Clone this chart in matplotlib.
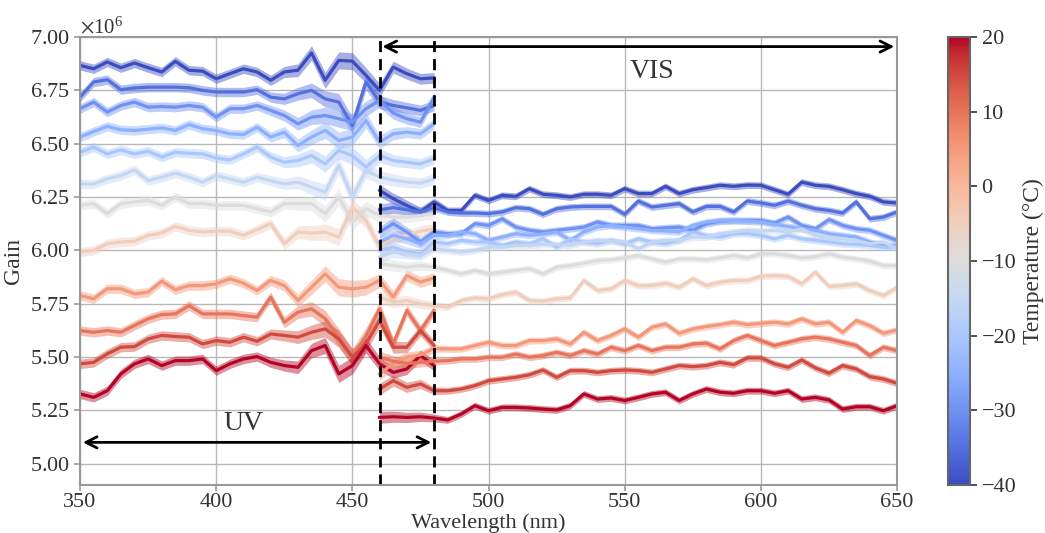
import numpy as np
import matplotlib
matplotlib.use("Agg")
import matplotlib.pyplot as plt
from matplotlib import cm
from matplotlib.colors import Normalize
from matplotlib.ticker import ScalarFormatter

plt.rcParams['font.family'] = ['Liberation Serif', 'DejaVu Serif']
plt.rcParams['mathtext.fontset'] = 'stix'
plt.rcParams['axes.unicode_minus'] = True

# wavelengths (nm) of the two detector ranges
wl_uv = np.arange(350, 481, 5)
wl_vis = np.arange(460, 651, 5)

temperatures = [-40, -35, -30, -25, -20, -15, -10, -5, 5, 10, 15, 20]

# mean gain (x1e6) per temperature, UV range 350-480 nm
uv_m40 = [6.867, 6.851, 6.883, 6.856, 6.878, 6.856, 6.836, 6.886, 6.844, 6.840, 6.804, 6.828, 6.851, 6.836,
          6.797, 6.836, 6.844, 6.925, 6.797, 6.890, 6.887, 6.820, 6.750, 6.859, 6.828, 6.804, 6.808]
uv_m35 = [6.718, 6.789, 6.800, 6.753, 6.761, 6.765, 6.765, 6.765, 6.762, 6.750, 6.742, 6.742, 6.742, 6.753,
          6.718, 6.710, 6.734, 6.750, 6.710, 6.695, 6.585, 6.789, 6.695, 6.679, 6.668, 6.656, 6.679]
uv_m30 = [6.664, 6.695, 6.648, 6.679, 6.695, 6.671, 6.674, 6.671, 6.679, 6.671, 6.624, 6.664, 6.664, 6.679,
          6.656, 6.632, 6.593, 6.624, 6.632, 6.617, 6.601, 6.664, 6.703, 6.643, 6.617, 6.601, 6.718]
uv_m25 = [6.531, 6.557, 6.581, 6.565, 6.562, 6.568, 6.574, 6.562, 6.590, 6.570, 6.562, 6.546, 6.543, 6.577,
          6.531, 6.554, 6.491, 6.531, 6.562, 6.515, 6.531, 6.609, 6.507, 6.546, 6.554, 6.546, 6.593]
uv_m20 = [6.460, 6.484, 6.452, 6.471, 6.452, 6.465, 6.437, 6.460, 6.455, 6.452, 6.433, 6.424, 6.452, 6.484,
          6.437, 6.413, 6.421, 6.444, 6.405, 6.468, 6.444, 6.390, 6.444, 6.421, 6.413, 6.405, 6.429]
uv_m15 = [6.311, 6.311, 6.335, 6.351, 6.377, 6.327, 6.343, 6.362, 6.343, 6.319, 6.351, 6.335, 6.319, 6.343,
          6.327, 6.311, 6.319, 6.296, 6.272, 6.398, 6.249, 6.374, 6.343, 6.330, 6.320, 6.315, 6.335]
uv_m10 = [6.211, 6.219, 6.172, 6.219, 6.227, 6.234, 6.211, 6.250, 6.219, 6.219, 6.211, 6.211, 6.211, 6.195,
          6.180, 6.219, 6.219, 6.219, 6.172, 6.250, 6.133, 6.195, 6.164, 6.156, 6.156, 6.164, 6.172]
uv_m5 = [5.992, 6.000, 6.031, 6.039, 6.043, 6.070, 6.081, 6.112, 6.094, 6.086, 6.090, 6.090, 6.070, 6.097,
         6.125, 6.031, 6.086, 6.081, 6.086, 6.062, 6.203, 6.140, 6.015, 6.060, 6.070, 6.090, 6.100]
uv_p5 = [5.788, 5.773, 5.820, 5.820, 5.796, 5.804, 5.856, 5.815, 5.835, 5.835, 5.843, 5.867, 5.846, 5.812,
         5.859, 5.835, 5.765, 5.827, 5.890, 5.827, 5.820, 5.827, 5.859, 5.781, 5.882, 5.851, 5.871]
uv_p10 = [5.624, 5.616, 5.624, 5.616, 5.648, 5.679, 5.699, 5.702, 5.741, 5.702, 5.702, 5.702, 5.694, 5.687,
          5.781, 5.663, 5.710, 5.726, 5.680, 5.593, 5.499, 5.600, 5.726, 5.561, 5.718, 5.624, 5.718]
uv_p15 = [5.468, 5.475, 5.515, 5.546, 5.549, 5.585, 5.601, 5.596, 5.593, 5.561, 5.577, 5.569, 5.593, 5.574,
          5.608, 5.601, 5.593, 5.616, 5.632, 5.585, 5.499, 5.561, 5.671, 5.546, 5.546, 5.624, 5.554]
uv_p20 = [5.327, 5.311, 5.342, 5.421, 5.468, 5.491, 5.460, 5.483, 5.483, 5.491, 5.436, 5.468, 5.491, 5.502,
          5.475, 5.460, 5.452, 5.530, 5.554, 5.421, 5.460, 5.554, 5.468, 5.428, 5.444, 5.507, 5.460]

# mean gain (x1e6) per temperature, VIS range 460-650 nm
vis_m40 = [6.281, 6.242, 6.211, 6.180, 6.227, 6.187, 6.187, 6.258, 6.234, 6.258, 6.253, 6.289, 6.263,
           6.258, 6.250, 6.263, 6.263, 6.258, 6.289, 6.266, 6.266, 6.300, 6.266, 6.284, 6.294, 6.305,
           6.300, 6.306, 6.305, 6.284, 6.263, 6.320, 6.305, 6.300, 6.284, 6.266, 6.253, 6.227, 6.222]
vis_m35 = [6.190, 6.200, 6.190, 6.180, 6.200, 6.180, 6.175, 6.175, 6.172, 6.180, 6.200, 6.195, 6.169,
           6.195, 6.203, 6.206, 6.206, 6.206, 6.169, 6.231, 6.203, 6.211, 6.219, 6.180, 6.206, 6.206,
           6.180, 6.231, 6.222, 6.211, 6.231, 6.211, 6.195, 6.187, 6.175, 6.227, 6.148, 6.156, 6.180]
vis_m30 = [6.086, 6.125, 6.086, 6.039, 6.086, 6.078, 6.078, 6.125, 6.117, 6.148, 6.109, 6.094, 6.086,
           6.094, 6.101, 6.109, 6.133, 6.117, 6.117, 6.117, 6.101, 6.106, 6.109, 6.094, 6.125, 6.137,
           6.140, 6.140, 6.140, 6.128, 6.156, 6.117, 6.101, 6.144, 6.117, 6.101, 6.094, 6.070, 6.047]
vis_m25 = [6.039, 6.070, 6.054, 6.031, 6.070, 6.070, 6.086, 6.078, 6.047, 6.062, 6.078, 6.070, 6.078,
           6.086, 6.047, 6.086, 6.109, 6.117, 6.109, 6.101, 6.094, 6.090, 6.086, 6.117, 6.133, 6.140,
           6.140, 6.137, 6.133, 6.122, 6.112, 6.101, 6.094, 6.078, 6.070, 6.062, 6.039, 6.023, 6.023]
vis_m20 = [6.000, 6.015, 5.992, 5.984, 6.039, 6.031, 6.047, 6.039, 6.039, 6.023, 6.039, 6.031, 6.054,
           6.015, 6.054, 6.039, 6.031, 6.047, 6.031, 6.054, 6.039, 6.031, 6.047, 6.086, 6.070, 6.062,
           6.078, 6.078, 6.070, 6.054, 6.070, 6.054, 6.047, 6.039, 6.031, 6.028, 6.023, 6.015, 6.015]
vis_m15 = [5.968, 5.992, 5.984, 5.976, 6.007, 6.000, 5.992, 6.000, 6.015, 6.015, 6.023, 6.023, 6.028,
           6.028, 6.023, 6.039, 6.047, 6.043, 6.039, 6.007, 6.039, 6.047, 6.047, 6.062, 6.062, 6.078,
           6.086, 6.094, 6.090, 6.094, 6.086, 6.101, 6.070, 6.054, 6.054, 6.047, 6.031, 6.039, 6.007]
vis_m10 = [5.937, 5.929, 5.921, 5.929, 5.921, 5.906, 5.890, 5.906, 5.890, 5.898, 5.906, 5.914, 5.890,
           5.921, 5.929, 5.940, 5.953, 5.956, 5.965, 5.976, 5.960, 5.945, 5.960, 5.960, 5.956, 5.965,
           5.976, 5.965, 5.984, 5.984, 5.976, 5.965, 5.971, 5.984, 5.968, 5.960, 5.950, 5.929, 5.929]
vis_m5 = [5.781, 5.757, 5.765, 5.749, 5.741, 5.734, 5.765, 5.777, 5.773, 5.793, 5.804, 5.765, 5.762,
          5.773, 5.777, 5.859, 5.812, 5.820, 5.859, 5.835, 5.835, 5.846, 5.827, 5.867, 5.835, 5.851,
          5.859, 5.859, 5.878, 5.882, 5.878, 5.843, 5.898, 5.831, 5.835, 5.843, 5.812, 5.788, 5.827]
vis_p5 = [5.420, 5.470, 5.500, 5.510, 5.540, 5.538, 5.538, 5.554, 5.569, 5.554, 5.554, 5.577, 5.577,
          5.585, 5.561, 5.616, 5.577, 5.601, 5.632, 5.593, 5.640, 5.655, 5.611, 5.632, 5.643, 5.652,
          5.663, 5.652, 5.658, 5.663, 5.655, 5.679, 5.655, 5.663, 5.616, 5.671, 5.647, 5.611, 5.627]
vis_p10 = [5.500, 5.480, 5.470, 5.475, 5.480, 5.483, 5.491, 5.491, 5.499, 5.499, 5.514, 5.499, 5.507,
           5.522, 5.507, 5.530, 5.514, 5.546, 5.530, 5.554, 5.530, 5.546, 5.546, 5.561, 5.565, 5.538,
           5.577, 5.601, 5.577, 5.554, 5.569, 5.585, 5.593, 5.585, 5.569, 5.554, 5.507, 5.546, 5.530]
vis_p15 = [5.350, 5.389, 5.358, 5.374, 5.342, 5.342, 5.350, 5.366, 5.389, 5.397, 5.405, 5.417, 5.439,
           5.405, 5.436, 5.436, 5.428, 5.436, 5.439, 5.436, 5.428, 5.444, 5.460, 5.455, 5.460, 5.475,
           5.464, 5.496, 5.496, 5.468, 5.452, 5.486, 5.449, 5.424, 5.460, 5.444, 5.408, 5.397, 5.377]
vis_p20 = [5.217, 5.220, 5.217, 5.220, 5.214, 5.205, 5.233, 5.272, 5.248, 5.264, 5.264, 5.261, 5.256,
           5.252, 5.272, 5.327, 5.303, 5.308, 5.296, 5.311, 5.327, 5.335, 5.296, 5.327, 5.350, 5.335,
           5.330, 5.342, 5.342, 5.330, 5.342, 5.303, 5.311, 5.299, 5.256, 5.267, 5.267, 5.248, 5.272]

# half width of the shaded spread band (x1e6)
uv_spread = [0.022, 0.022, 0.022, 0.022, 0.022, 0.022, 0.022, 0.022, 0.022, 0.022, 0.022, 0.022, 0.022,
             0.022, 0.024, 0.026, 0.030, 0.034, 0.038, 0.040, 0.040, 0.036, 0.032, 0.028, 0.026, 0.025, 0.025]
vis_spread = [0.028, 0.026, 0.024, 0.022, 0.018] + [0.016] * 34

uv_series = [uv_m40, uv_m35, uv_m30, uv_m25, uv_m20, uv_m15, uv_m10, uv_m5, uv_p5, uv_p10, uv_p15, uv_p20]
vis_series = [vis_m40, vis_m35, vis_m30, vis_m25, vis_m20, vis_m15, vis_m10, vis_m5, vis_p5, vis_p10,
              vis_p15, vis_p20]

cmap = plt.get_cmap('coolwarm')
norm = Normalize(vmin=-40, vmax=20)
grey = '#999999'
txt = '#333333'

fig = plt.figure(figsize=(10.45, 5.33), dpi=100)
ax = fig.add_axes([0.0766, 0.090, 0.7818, 0.8406])
cax = fig.add_axes([0.907, 0.090, 0.021, 0.8406])

for wl, series, spread in [(wl_uv, uv_series, uv_spread), (wl_vis, vis_series, vis_spread)]:
    sp = np.array(spread) * 1e6
    for temp, vals in zip(temperatures, series):
        color = cmap(norm(temp))
        y = np.array(vals) * 1e6
        ax.fill_between(wl, y - sp, y + sp, color=color, alpha=0.45, linewidth=0)
        ax.plot(wl, y, color=color, linewidth=2.3)

# detector boundaries and range arrows
ax.axvline(460, color='black', linestyle='--', linewidth=2, dashes=(4, 2.5))
ax.axvline(480, color='black', linestyle='--', linewidth=2, dashes=(4, 2.5))
ax.annotate('', xy=(350, 5.10e6), xytext=(480, 5.10e6),
            arrowprops=dict(arrowstyle='<->', color='black', lw=2, mutation_scale=20))
ax.annotate('', xy=(460, 6.955e6), xytext=(650, 6.955e6),
            arrowprops=dict(arrowstyle='<->', color='black', lw=2, mutation_scale=20))
ax.text(410, 5.19e6, 'UV', fontsize=20, ha='center', va='center', color=txt)
ax.text(560, 6.84e6, 'VIS', fontsize=20, ha='center', va='center', color=txt)

ax.set_xlim(350, 650)
ax.set_ylim(4.9e6, 7.0e6)
ax.set_xticks([350, 400, 450, 500, 550, 600, 650])
ax.set_yticks(np.arange(5.0e6, 7.01e6, 0.25e6))
fmt = ScalarFormatter(useMathText=True)
fmt.set_powerlimits((0, 0))
ax.yaxis.set_major_formatter(fmt)
ax.yaxis.get_offset_text().set_fontsize(15)
ax.yaxis.get_offset_text().set_color(txt)

ax.grid(True, color='#b8b8b8', linewidth=1.0)
ax.set_axisbelow(True)
for s in ax.spines.values():
    s.set_color(grey)
    s.set_linewidth(1.5)
ax.tick_params(colors=grey, labelcolor=txt, labelsize=16, length=4, width=1.2)
ax.tick_params(axis='x', pad=2)

ax.set_xlabel('Wavelength (nm)', fontsize=16, color=txt, labelpad=1)
ax.set_ylabel('Gain', fontsize=17, color=txt, labelpad=4)

# temperature colour bar
sm = cm.ScalarMappable(norm=norm, cmap=cmap)
cbar = fig.colorbar(sm, cax=cax)
cbar.set_ticks([-40, -30, -20, -10, 0, 10, 20])
cbar.outline.set_edgecolor('#666666')
cbar.outline.set_linewidth(1.5)
cax.tick_params(colors=txt, labelsize=16, length=5, width=1.2)
cbar.set_label('Temperature (°C)', fontsize=17, color=txt, labelpad=5)

fig.savefig('out.png', dpi=100)
